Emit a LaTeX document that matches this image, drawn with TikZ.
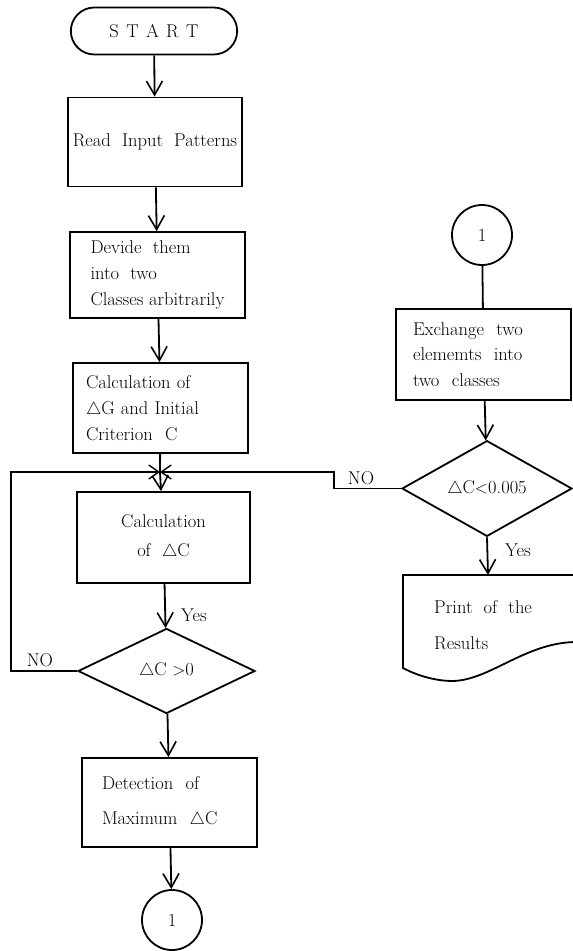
\documentclass[tikz,border=0pt]{standalone}
\usetikzlibrary{arrows.meta,shapes.geometric,shapes.misc}
\begin{document}
\begin{tikzpicture}[x=1pt,y=-1pt,line width=1.8pt,
  tip/.style={-{Straight Barb[length=14pt,width=16pt,line width=1.6pt]}},
  tipsmall/.style={-{Straight Barb[length=10pt,width=14pt,line width=1.4pt]}},
  txt/.style={font=\fontsize{18.5}{26}\selectfont},
  box/.style={draw,rectangle,inner ysep=0pt,txt},
  dia/.style={draw,diamond,inner sep=0pt,txt},
  conn/.style={draw,circle,minimum size=60pt,inner sep=0pt,txt}]
\useasboundingbox (0,0) rectangle (573,951);

% left column
\node[draw,rounded rectangle,minimum width=173pt,minimum height=47pt,txt] (start) at (154,31)
  {S\hspace{0.4em}T\hspace{0.4em}A\hspace{0.4em}R\hspace{0.4em}T};
\node[box,minimum width=174pt,minimum height=89pt,inner xsep=4pt] (read) at (155,142) {Read\ \ Input\ \ Patterns};
\node[box,minimum width=175pt,minimum height=86pt,align=left] (devide) at (157.5,275)
  {Devide\ \ them\\ into\ \ two\\Classes arbitrarily};
\node[box,minimum width=175pt,minimum height=90pt,inner xsep=13pt,text width=149pt,align=left] (calc1) at (160.5,408)
  {Calculation of\\$\triangle$G and Initial\\Criterion\ \ C};
\coordinate (jn) at (160,472);
\node[box,minimum width=173pt,minimum height=91pt,align=center,font=\fontsize{18.5}{29}\selectfont] (calc2) at (163.5,537.5)
  {Calculation\\of\ \ $\triangle$C};
\node[dia,minimum width=177pt,minimum height=85pt] (d1) at (166.5,671) {$\triangle$C $>$0};
\node[box,minimum width=175pt,minimum height=89pt,inner xsep=20pt,text width=135pt,align=left,font=\fontsize{18.5}{35}\selectfont] (detect) at (169.5,802.5)
  {Detection\ \ of\\Maximum\ \ $\triangle$C};
\node[conn] (c1) at (172,920) {1};

% right column
\node[conn] (c2) at (482,235) {1};
\node[box,minimum width=175pt,minimum height=91pt,inner xsep=17pt,text width=141pt,align=left,font=\fontsize{18.5}{25.5}\selectfont] (exch) at (483.5,354.5)
  {Exchange\ \ two\\elememts\ \ into\\two\ \ classes};
\node[dia,minimum width=170pt,minimum height=87pt] (d2) at (487,488.5) {$\triangle$C$<$0.005};
\coordinate (doctop) at (488,575);
\draw (592,575) -- (403,575) -- (403,668)
  .. controls (420,677) and (438,681) .. (453,681)
  .. controls (490,680) and (525,643) .. (575,642) -- (592,642);
\node[txt,align=left,anchor=west,font=\fontsize{18.5}{36}\selectfont] (ptext) at (430,625)
  {Print\ \ of\ \ the\\Results};

% labels
\node[txt] (yes1) at (194,615) {Yes};
\node[txt] (no1) at (40,660) {NO};
\node[txt] (no2) at (361,478) {NO};
\node[txt] (yes2) at (518,550) {Yes};

% connectors
\draw[tip] (start) -- (read);
\draw[tip] (read) -- (devide);
\draw[tip] (devide) -- (calc1);
\draw (calc1) -- (jn);
\draw[tip] (jn) -- (calc2);
\draw[tip] (calc2) -- (d1);
\draw[tip] (d1) -- (detect);
\draw[tip] (detect) -- (c1);
\draw[tipsmall] (d1.west) -- ++(-66,0) |- (jn);
\draw[tipsmall] (d2.west) -- ++(-67,0) |- (jn);
\draw (c2) -- (exch);
\draw[tip] (exch) -- (d2);
\draw[tip] (d2.south) -- (doctop);
\end{tikzpicture}
\end{document}
